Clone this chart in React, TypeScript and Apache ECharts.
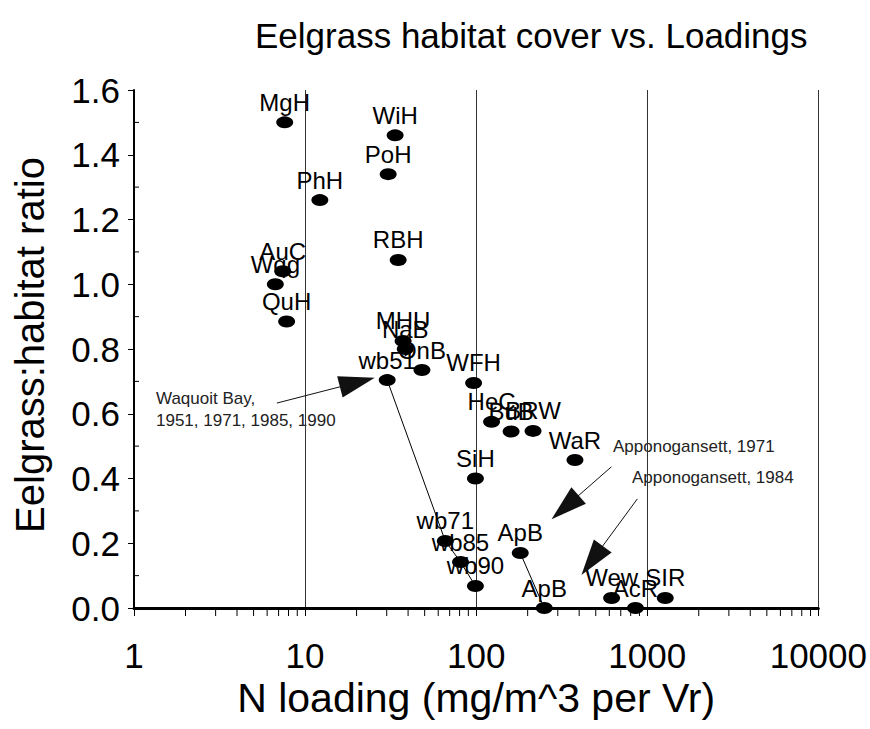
import React, { useEffect, useRef } from "react";
import * as echarts from "echarts";

// ---- data ----
const siteNames = ["MgH", "WiH", "PoH", "PhH", "RBH", "AuC", "Wqg", "QuH", "MHU", "NaB", "OnB", "WFH", "HeC", "BuB", "BRW", "WaR", "SiH", "Wew", "AcR", "SIR"];
const siteLoading = [7.6, 33.6, 30.6, 12.2, 35, 7.4, 6.7, 7.8, 37.4, 38.5, 48.2, 96.6, 123, 160, 215, 378, 99, 619, 853, 1274];
const siteRatio = [1.5, 1.46, 1.34, 1.26, 1.075, 1.04, 1.0, 0.885, 0.825, 0.8, 0.735, 0.695, 0.575, 0.545, 0.547, 0.457, 0.4, 0.031, 0.0, 0.031];

const waquoitNames = ["wb51", "wb71", "wb85", "wb90"];
const waquoitLoading = [30.2, 66, 81, 99];
const waquoitRatio = [0.704, 0.207, 0.142, 0.068];

const apponNames = ["ApB", "ApB"];
const apponLoading = [181, 250];
const apponRatio = [0.17, 0.0];

const xTickLabels = ["1", "10", "100", "1000", "10000"];
const minorTickValues = [2, 3, 4, 5, 6, 7, 8, 9, 20, 30, 40, 50, 60, 70, 80, 90, 200, 300, 400, 500, 600, 700, 800, 900, 2000, 3000, 4000, 5000, 6000, 7000, 8000, 9000];
const yMinorTickValues = [0.1, 0.3, 0.5, 0.7, 0.9, 1.1, 1.3, 1.5];

const annotationTexts = ["Waquoit Bay,\n1951, 1971, 1985, 1990", "Apponogansett, 1971", "Apponogansett, 1984"];
const arrowFrom = [[6.84, 0.633], [617, 0.436], [875, 0.337]];
const arrowTo = [[20.2, 0.697], [331, 0.311], [476, 0.147]];

const FONT = "'Liberation Sans', Arial, Helvetica, sans-serif";

export default function App() {
  const ref = useRef<HTMLDivElement>(null);
  useEffect(() => {
    document.body.style.margin = "0";
    if (!ref.current) return;
    const chart = echarts.init(ref.current, null, { renderer: "svg" });
    const dotLabel = {
      show: true,
      position: "top",
      distance: 2,
      formatter: "{b}",
      fontSize: 24,
      color: "#000",
      opacity: 1,
      fontFamily: FONT,
    };
    const dotStyle = { color: "#000", opacity: 1 };
    const option: any = {
      animation: false,
      backgroundColor: "#fff",
      title: {
        text: "Eelgrass habitat cover vs. Loadings",
        left: 250,
        top: 13,
        textStyle: { fontSize: 35, fontWeight: "normal", color: "#000", fontFamily: FONT },
      },
      grid: { left: 134, right: 50, top: 90, bottom: 121, containLabel: false },
      xAxis: {
        type: "log",
        logBase: 10,
        min: 1,
        max: 10000,
        axisLine: { show: true, lineStyle: { color: "#000", width: 3 } },
        axisTick: { show: true, length: 8, lineStyle: { color: "#000", width: 1 } },
        splitLine: { show: true, lineStyle: { color: "#333", width: 1 } },
        axisLabel: {
          fontSize: 35,
          color: "#000",
          fontFamily: FONT,
          margin: 30,
          formatter: (v: number) => xTickLabels[Math.round(Math.log10(v))] ?? String(v),
        },
        name: "N loading (mg/m^3 per Vr)",
        nameLocation: "middle",
        nameGap: 61,
        nameTextStyle: { fontSize: 41, color: "#000", fontFamily: FONT },
      },
      yAxis: {
        type: "value",
        min: 0,
        max: 1.6,
        interval: 0.2,
        axisLine: { show: true, lineStyle: { color: "#000", width: 2 } },
        axisTick: { show: true, length: 6, lineStyle: { color: "#000", width: 1 } },
        splitLine: { show: false },
        axisLabel: {
          fontSize: 35,
          color: "#000",
          fontFamily: FONT,
          margin: 14,
          formatter: (v: number) => v.toFixed(1),
        },
      },
      graphic: [
        {
          type: "text",
          x: 30,
          y: 345,
          rotation: Math.PI / 2,
          style: { text: "Eelgrass:habitat ratio", fontSize: 40, fontFamily: FONT, fill: "#000", align: "center", verticalAlign: "middle" },
        },
        {
          type: "text",
          x: 156,
          y: 387,
          style: { text: annotationTexts[0], fontSize: 17, lineHeight: 22, fontFamily: FONT, fill: "#222", align: "left", verticalAlign: "top" },
        },
        {
          type: "text",
          x: 613,
          y: 446,
          style: { text: annotationTexts[1], fontSize: 17, fontFamily: FONT, fill: "#222", align: "left", verticalAlign: "middle" },
        },
        {
          type: "text",
          x: 632,
          y: 477,
          style: { text: annotationTexts[2], fontSize: 17, fontFamily: FONT, fill: "#222", align: "left", verticalAlign: "middle" },
        },
      ],
      series: [
        {
          type: "custom",
          silent: true,
          data: minorTickValues.map((v) => [v, 0]),
          renderItem: (params: any, api: any) => {
            const p = api.coord([api.value(0), 0]);
            return {
              type: "line",
              shape: { x1: p[0], y1: p[1], x2: p[0], y2: p[1] + 8 },
              style: { stroke: "#000", lineWidth: 1 },
            };
          },
          z: 1,
        },
        {
          type: "custom",
          silent: true,
          data: yMinorTickValues.map((v) => [1, v]),
          renderItem: (params: any, api: any) => {
            const p = api.coord([1, api.value(1)]);
            return {
              type: "line",
              shape: { x1: p[0], y1: p[1], x2: p[0] + 5, y2: p[1] },
              style: { stroke: "#000", lineWidth: 1 },
            };
          },
          z: 1,
        },
        {
          type: "scatter",
          name: "Sites",
          symbol: "circle",
          symbolSize: [17, 12],
          itemStyle: dotStyle,
          label: dotLabel,
          data: siteNames.map((n, i) => ({ name: n, value: [siteLoading[i], siteRatio[i]] })),
          markLine: {
            silent: true,
            symbol: ["none", "triangle"],
            symbolSize: [22, 36],
            lineStyle: { color: "#111", width: 1, type: "solid", opacity: 1 },
            label: { show: false },
            emphasis: { disabled: true },
            data: arrowFrom.map((f, i) => [{ coord: f }, { coord: arrowTo[i] }]),
          },
          z: 3,
        },
        {
          type: "line",
          name: "Waquoit Bay",
          symbol: "circle",
          symbolSize: [17, 12],
          itemStyle: dotStyle,
          lineStyle: { color: "#000", width: 1 },
          label: dotLabel,
          data: waquoitNames.map((n, i) => ({ name: n, value: [waquoitLoading[i], waquoitRatio[i]] })),
          z: 3,
        },
        {
          type: "line",
          name: "Apponagansett",
          symbol: "circle",
          symbolSize: [17, 12],
          itemStyle: dotStyle,
          lineStyle: { color: "#000", width: 1 },
          label: dotLabel,
          data: apponNames.map((n, i) => ({ name: n, value: [apponLoading[i], apponRatio[i]] })),
          z: 3,
        },
      ],
    };
    chart.setOption(option);
    return () => chart.dispose();
  }, []);
  return <div ref={ref} style={{ width: 870, height: 729 }} />;
}
